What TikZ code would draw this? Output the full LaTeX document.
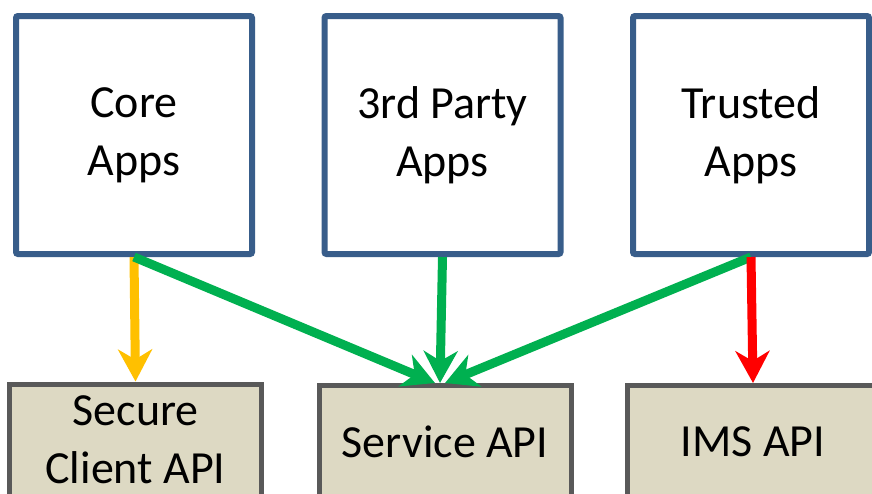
\documentclass[tikz,border=0pt]{standalone}
\usepackage{fontspec}
\setmainfont{Carlito}
\usetikzlibrary{arrows.meta}
\definecolor{appblue}{HTML}{385D8A}
\definecolor{apitan}{HTML}{DDD9C3}
\definecolor{apigray}{HTML}{595959}
\definecolor{okgreen}{HTML}{00B050}
\definecolor{warnyellow}{HTML}{FFC000}
\definecolor{badred}{HTML}{FF0000}
\begin{document}
\begin{tikzpicture}[x=1pt,y=-1pt]
	\useasboundingbox (0,0) rectangle (872,493);
	\begin{scope}[every node/.style={draw=appblue, line width=6pt, fill=white, rounded corners=2pt, minimum width=236pt, minimum height=238pt, inner sep=0pt, align=center, font=\fontsize{46}{58}\selectfont}]
		\node (core) at (134,135) {Core\\Apps};
		\node (third) at (442.5,135) {3rd Party\\Apps};
		\node (trusted) at (751,135) {Trusted\\Apps};
	\end{scope}
	\begin{scope}[every node/.style={draw=apigray, line width=5pt, fill=apitan, minimum width=252pt, minimum height=112pt, inner sep=0pt, align=center, font=\fontsize{46}{58}\selectfont}]
		\node (secure) at (135.5,440) {Secure\\Client API};
		\node (service) at (445,441.5) {Service API};
		\node (ims) at (753,441.5) {IMS API};
	\end{scope}
	\begin{scope}[every edge/.style={draw, line width=9pt, -{Stealth[length=32pt, width=34pt, inset=10pt]}}]
		\path (core.south) edge[draw=warnyellow] (secure.north);
		\path (core.south) edge[draw=okgreen] ([xshift=-10pt]service.north);
		\path (third.south) edge[draw=okgreen] ([xshift=-5pt]service.north);
		\path (trusted.south) edge[draw=okgreen] (service.north);
		\path (trusted.south) edge[draw=badred] (ims.north);
	\end{scope}
\end{tikzpicture}
\end{document}
